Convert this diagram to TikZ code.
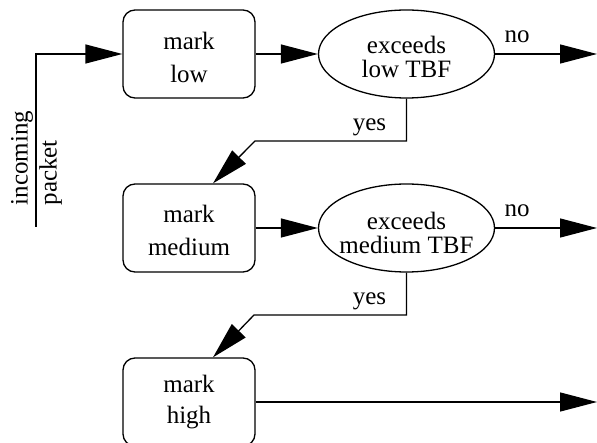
\documentclass[tikz,border=0pt]{standalone}
\usepackage{fontspec}
\setmainfont{Liberation Serif}
\usetikzlibrary{arrows.meta,shapes.geometric}
\newcommand{\ctext}[3]{\makebox[0pt]{\raisebox{#1}[0pt][0pt]{\fontsize{25}{#2}\selectfont\begin{tabular}[t]{@{}c@{}}#3\end{tabular}}}}
\begin{document}
\begin{tikzpicture}[x=1pt,y=-1pt, line width=1.3pt,
  box/.style={draw, rectangle, rounded corners=12pt, minimum width=132pt, minimum height=88pt, inner sep=0pt},
  dec/.style={draw, ellipse, minimum width=176pt, minimum height=88pt, inner sep=0pt},
  arr/.style={-{Triangle[length=37pt,width=19pt]}},
  lab/.style={font=\fontsize{25}{30}\selectfont, inner sep=0pt, anchor=base}]
\useasboundingbox (0,0) rectangle (597,443);
% nodes
\node[box] (b1) at (189,54) {\ctext{4.7pt}{33pt}{mark\\low}};
\node[box] (b2) at (189,228) {\ctext{5pt}{33pt}{mark\\medium}};
\node[box] (b3) at (189,402) {\ctext{9.5pt}{31pt}{mark\\high}};
\node[dec] (e1) at (406.5,54) {\ctext{0.7pt}{22pt}{exceeds\\low TBF}};
\node[dec] (e2) at (406.5,228) {\ctext{-1.5pt}{21pt}{exceeds\\medium TBF}};
% incoming
\coordinate (inc) at (36,227);
\draw[arr] (inc) |- (b1.west);
\node[rotate=90, anchor=west, inner sep=0pt] (lbl) at (36.3,206) {\fontsize{25}{29}\selectfont\begin{tabular}{@{}l@{}}incoming\\packet\end{tabular}};
% row 1
\draw[arr] (b1.east) -- (e1.west);
\coordinate (o1) at (597,54);
\draw[arr] (e1.east) -- (o1);
\node[lab] (no1) at (517,43) {no};
\coordinate (k1) at (255,141);
\draw[arr] (e1.south) |- (k1) -- ([xshift=24pt]b2.north);
\node[lab] (yes1) at (369.5,130.5) {yes};
% row 2
\draw[arr] (b2.east) -- (e2.west);
\coordinate (o2) at (597,228);
\draw[arr] (e2.east) -- (o2);
\node[lab] (no2) at (517,217) {no};
\coordinate (k2) at (254,315);
\draw[arr] (e2.south) |- (k2) -- ([xshift=24pt]b3.north);
\node[lab] (yes2) at (369.5,304.5) {yes};
% row 3
\coordinate (o3) at (597,402);
\draw[arr] (b3.east) -- (o3);
\end{tikzpicture}
\end{document}
